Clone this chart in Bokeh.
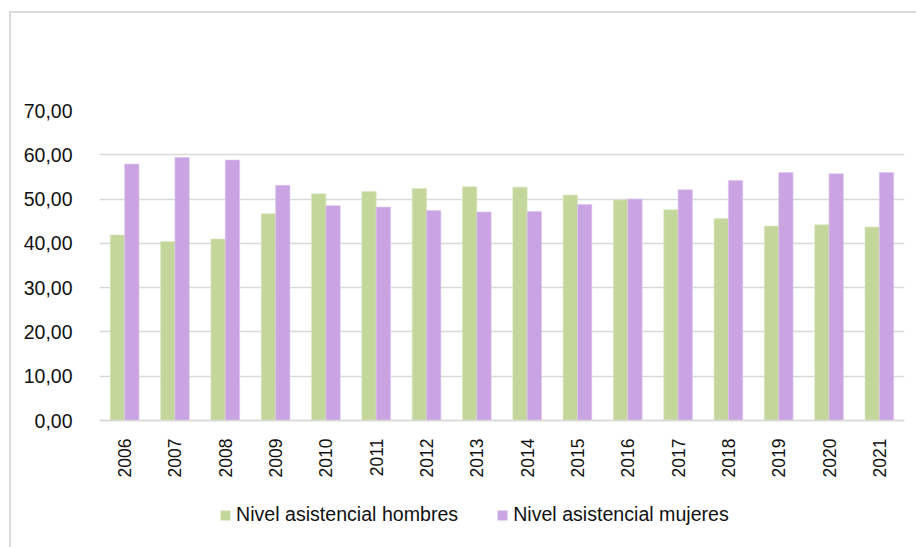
import math
from bokeh.plotting import figure
from bokeh.models import (FactorRange, Range1d, FixedTicker, CustomJSTickFormatter,
                          Legend, LegendItem, ColumnDataSource)
from bokeh.transform import dodge
from bokeh.embed import file_html
from bokeh.resources import INLINE

# Datos: nivel asistencial por sexo (%)
years = ["2006", "2007", "2008", "2009", "2010", "2011", "2012", "2013",
         "2014", "2015", "2016", "2017", "2018", "2019", "2020", "2021"]
hombres = [41.9, 40.4, 41.0, 46.7, 51.2, 51.7, 52.4, 52.8,
           52.7, 50.9, 49.8, 47.6, 45.6, 43.9, 44.2, 43.7]
mujeres = [57.9, 59.4, 58.8, 53.1, 48.5, 48.2, 47.4, 47.1,
           47.2, 48.8, 50.0, 52.1, 54.2, 56.0, 55.7, 56.0]
y_ticks = [0, 10, 20, 30, 40, 50, 60, 70]

GREEN = "#c4d79b"
PURPLE = "#caa4e2"
GRID = "#d9d9d9"
FONT = "Liberation Sans"

source = ColumnDataSource(dict(year=years, hombres=hombres, mujeres=mujeres))

# The frame reaches the bottom edge so the year labels and the legend sit
# inside it; the category axis is pinned at y = 0.
p = figure(
    x_range=FactorRange(*years),
    y_range=Range1d(-29.1, 70),
    width=907, height=536,
    output_backend="svg", toolbar_location=None,
    min_border_left=88, min_border_right=14,
    min_border_top=97, min_border_bottom=0,
)
p.margin = (11, 0, 0, 9)
p.styles = {"border-left": f"2px solid {GRID}", "border-top": f"2px solid {GRID}"}
p.outline_line_color = None
p.background_fill_color = "white"
p.border_fill_color = "white"

bw = 0.285
r1 = p.vbar(x=dodge("year", -bw / 2, range=p.x_range), top="hombres", width=bw,
            source=source, fill_color=GREEN, line_color="#dbe6c2", line_width=0.6)
r2 = p.vbar(x=dodge("year", bw / 2, range=p.x_range), top="mujeres", width=bw,
            source=source, fill_color=PURPLE, line_color="#dcc4ee", line_width=0.6)

# Ejes
p.xgrid.grid_line_color = None
p.ygrid.grid_line_color = GRID
p.ygrid.grid_line_width = 1.5
p.yaxis.ticker = FixedTicker(ticks=y_ticks)
p.yaxis.formatter = CustomJSTickFormatter(code="return tick.toFixed(2).replace('.', ',');")
p.yaxis.axis_line_color = None
p.yaxis.major_tick_line_color = None
p.yaxis.minor_tick_line_color = None
p.yaxis.major_label_standoff = 21
p.yaxis.major_label_text_font = FONT
p.yaxis.major_label_text_font_size = "19.5px"
p.yaxis.major_label_text_color = "#111111"

p.xaxis.fixed_location = 0
p.xaxis.axis_line_color = GRID
p.xaxis.axis_line_width = 1.5
p.xaxis.major_tick_line_color = None
p.xaxis.minor_tick_line_color = None
p.xaxis.major_label_orientation = math.pi / 2
p.xaxis.major_label_standoff = 12
p.xaxis.major_label_text_font = FONT
p.xaxis.major_label_text_font_size = "17.5px"
p.xaxis.major_label_text_color = "#111111"

legend = Legend(
    items=[LegendItem(label="Nivel asistencial hombres", renderers=[r1]),
           LegendItem(label="Nivel asistencial mujeres", renderers=[r2])],
    orientation="horizontal",
    location=(120, 23),
    glyph_width=12, glyph_height=12,
    label_standoff=5, spacing=38, padding=0, margin=0,
    label_text_font=FONT, label_text_font_size="19.6px", label_text_color="#111111",
    border_line_color=None, background_fill_alpha=0,
)
p.add_layout(legend, "center")

open("out.html", "w").write(file_html(p, INLINE))
